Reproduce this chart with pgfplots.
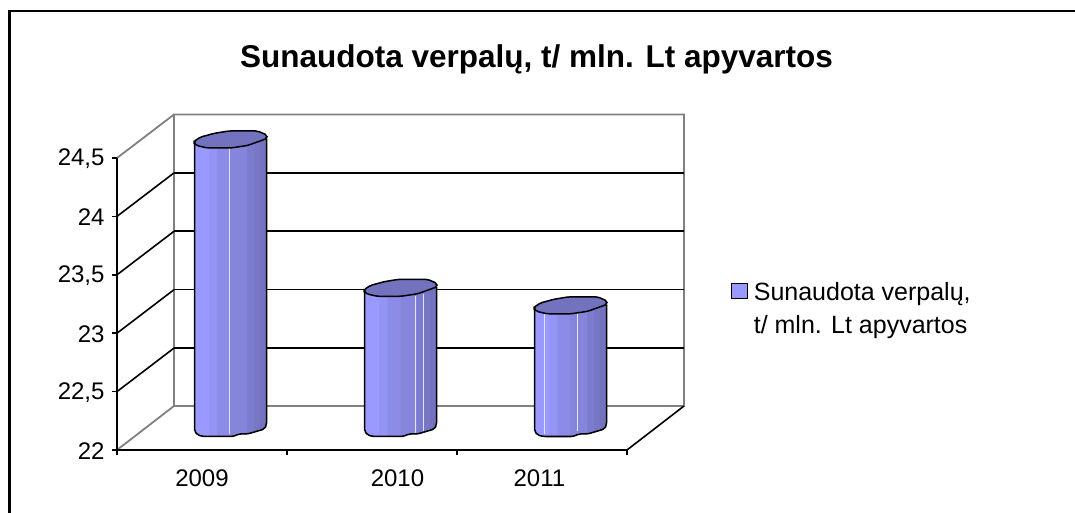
\documentclass[border=0pt]{standalone}
\usepackage{pgfplots}
\usepackage{fontspec}
\setmainfont{Liberation Sans}
\pgfplotsset{compat=1.18}

\definecolor{ba}{HTML}{9999FF}
\definecolor{bb}{HTML}{9494F5}
\definecolor{bc}{HTML}{8C8CE8}
\definecolor{bd}{HTML}{8585DC}
\definecolor{be}{HTML}{7C7CCE}
\definecolor{bf}{HTML}{7777C6}
\definecolor{bg}{HTML}{7272BE}
\definecolor{wall}{HTML}{808080}

\pgfdeclarehorizontalshading{cylbands}{100bp}{
  color(0bp)=(ba); color(34.5bp)=(ba);
  color(34.6bp)=(bb); color(40.5bp)=(bb);
  color(40.6bp)=(bc); color(49.5bp)=(bc);
  color(49.6bp)=(bd); color(61bp)=(bd);
  color(61.1bp)=(be); color(66bp)=(be);
  color(66.1bp)=(bf); color(70bp)=(bf);
  color(70.1bp)=(bg); color(100bp)=(bg)}

% one cylinder, top centre at the data point; height from the value
\pgfdeclareplotmark{cyl}{
  \pgfmathsetmacro\cylh{(\cylv-22)*116.8}
  \pgftransformshift{\pgfpoint{28.5pt}{22pt}}
  \begin{scope}[x=1pt,y=1pt,line join=round]
    \path[shading=cylbands,rounded corners=2pt] (-36,-3) -- (-36,-3-\cylh) -- (-33,-7-\cylh) -- (-27,-8.5-\cylh) -- (3,-8.5-\cylh)
      -- (8,-6-\cylh) -- (17,-6-\cylh) -- (34,-1-\cylh) -- (36,3-\cylh) -- (36,1) -- cycle;
    \draw[color=white!70!ba,line width=.7pt] (-36+72*\cyla,-8) -- (-36+72*\cyla,-6-\cylh);
    \draw[color=white!70!ba,line width=.7pt] (-36+72*\cylb,-6) -- (-36+72*\cylb,-3-\cylh);
    \draw[black,line width=1.5pt,rounded corners=2pt] (-36,-4) -- (-36,-3-\cylh) -- (-33,-7-\cylh) -- (-27,-8.5-\cylh) -- (3,-8.5-\cylh)
      -- (8,-6-\cylh) -- (17,-6-\cylh) -- (34,-1-\cylh) -- (36,3-\cylh) -- (36,1);
    \draw[black,fill=bg,line width=1.5pt,rounded corners=2pt] (-24,4) -- (-17,6) -- (-2,8.5) -- (27,8.5) -- (36.5,4.5)
      -- (36.5,1) -- (17,-6) -- (0,-8.5) -- (-23,-8.5) -- (-34,-6) -- (-36.5,-3.5) -- (-36.5,-2) -- (-30,2.5) -- cycle;
  \end{scope}
}

\begin{document}
\begin{tikzpicture}[x=1pt,y=1pt]
\useasboundingbox (-117,-63) rectangle (958,450);
% frame
\draw[black,line width=2.2pt] (-107.5,-63) -- (-107.5,438.7) -- (958,438.7);
% walls and floor
\draw[wall,line width=1.8pt] (0,0) -- (57,44) -- (57,335.5) -- (567,335.5) -- (567,44) -- (57,44);
\draw[wall,line width=1.8pt] (0,292) -- (57,335.5);
\foreach \g in {58.4,116.8,175.2,233.6}
  \draw[black,line width=1.6pt] (0,\g) -- (57,\g+43.5);
\draw[black,line width=1.6pt] (510,0) -- (567,44);
\begin{axis}[
  scale only axis,
  width=510pt,
  height=292pt,
  clip=false,
  xmin=0, xmax=3,
  ymin=22, ymax=24.5,
  axis x line=bottom,
  axis y line=left,
  axis line style={-,black,line width=1.6pt},
  tick style={black,line width=1.5pt},
  tick align=outside,
  major tick length=5pt,
  xtick={0,1,2,3},
  xticklabels={},
  extra x ticks={0.5,1.65,2.485},
  extra x tick labels={2009,2010,2011},
  extra x tick style={major tick length=0pt,tick style={draw=none}},
  ytick={22.5,23,23.5,24},
  extra y ticks={22,24.5},
  extra y tick style={ymajorgrids=false},
  ymajorgrids,
  major grid style={black,line width=1.6pt,xshift=57pt,yshift=43.5pt},
  /pgf/number format/assume math mode=true,
  /pgf/number format/use comma,
  ticklabel style={font=\fontsize{24}{24}\selectfont},
  xticklabel style={yshift=-16pt},
  yticklabel style={xshift=-4pt,yshift=-1pt},
  title={Sunaudota verpalų, t/ mln. Lt apyvartos},
  title style={at={(0.8225,1.29)},anchor=base,inner sep=0pt,font=\fontsize{31.5}{31.5}\selectfont\bfseries},
  legend style={at={(1.213,0.58)},anchor=north west,draw=none,fill=none,inner sep=0pt,
    font=\fontsize{25}{33}\selectfont,cells={align=left}},
]
\addplot[
  only marks, mark=cyl, scatter,
  scatter/@pre marker code/.code={\pgfinterruptboundingbox\endpgfinterruptboundingbox},
  scatter/@post marker code/.code={},
  visualization depends on={rawy \as \cylv},
  visualization depends on={\thisrow{a} \as \cyla},
  visualization depends on={\thisrow{b} \as \cylb},
  legend image code/.code={\path[draw=none] (0pt,0pt) -- (16pt,0pt);
    \draw[overlay,black,line width=1.2pt,fill=ba] (-4.5pt,11pt) rectangle (11.5pt,26pt);},
] table {
x y a b
0.5 24.47 0.49 0.49
1.5 23.20 0.71 0.82
2.5 23.05 0.13 0.60
};
\addlegendentry{Sunaudota verpalų,\\t/ mln. Lt apyvartos}
\end{axis}
\end{tikzpicture}
\end{document}
